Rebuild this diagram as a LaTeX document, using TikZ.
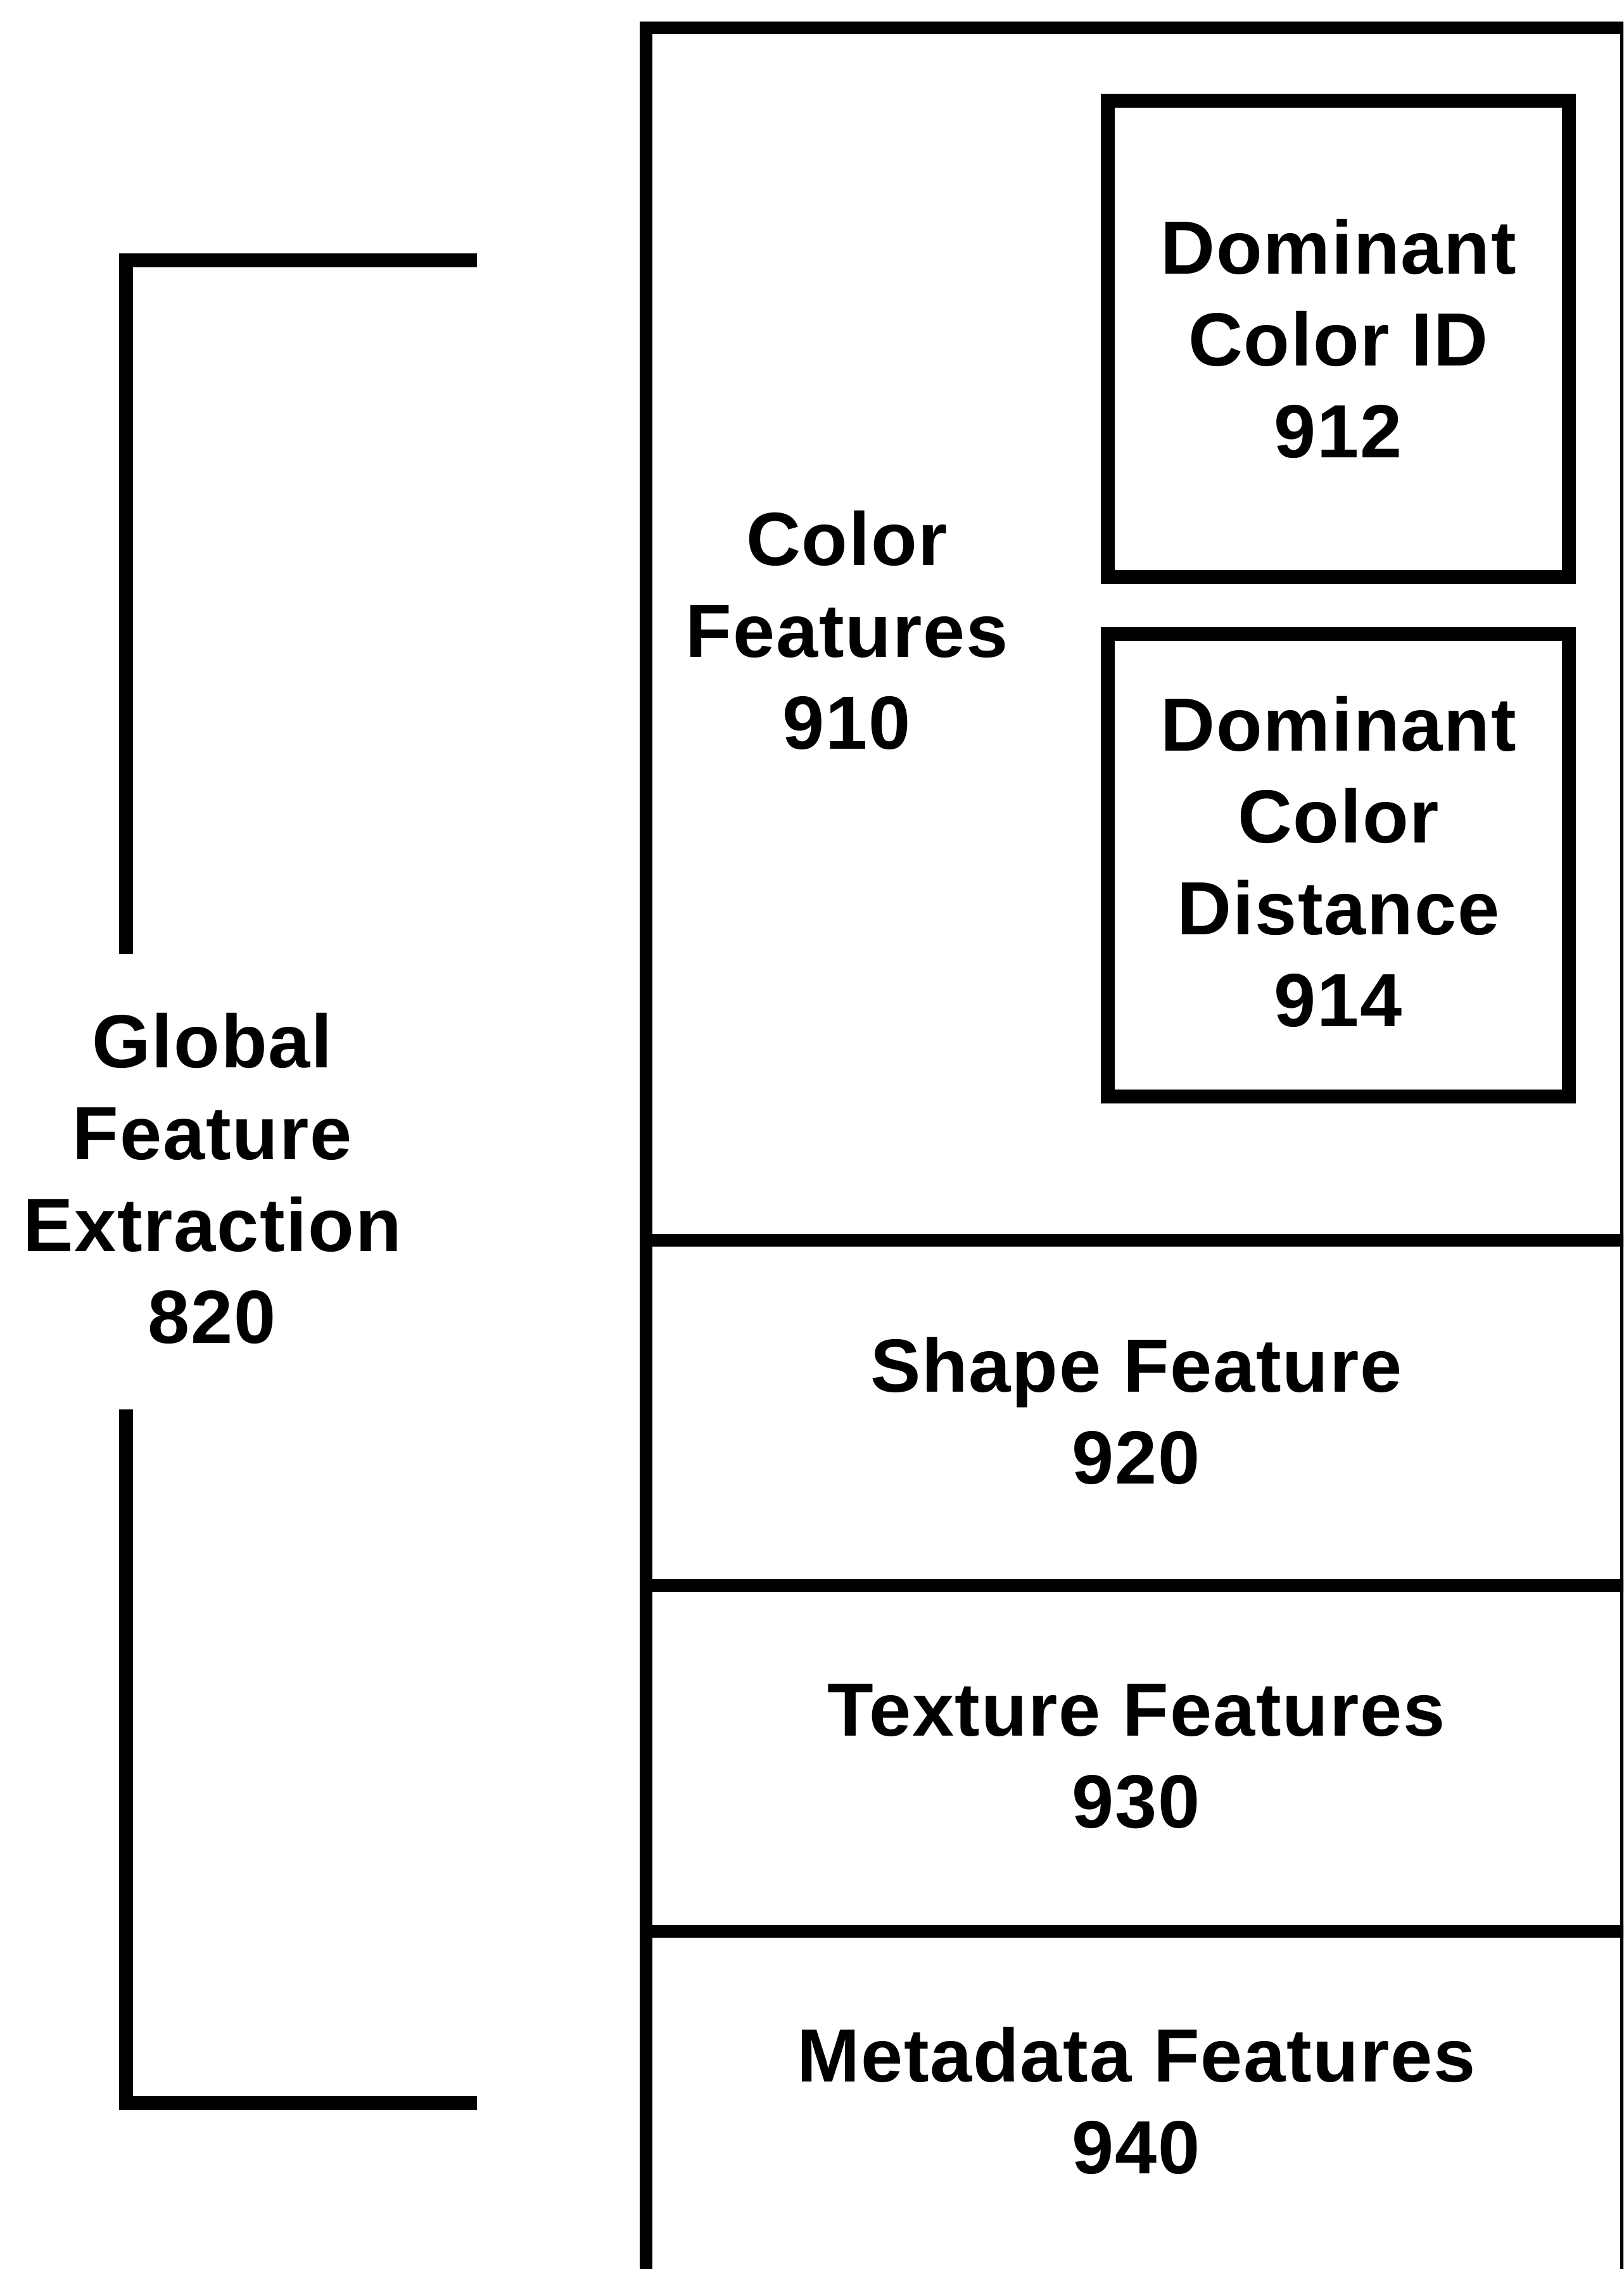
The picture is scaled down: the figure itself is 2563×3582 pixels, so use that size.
\documentclass[tikz,border=0pt]{standalone}
\usepackage{fontspec}
\setmainfont{Liberation Sans}[LetterSpace=1.5]
\begin{document}
\begin{tikzpicture}[x=0.1pt,y=-0.1pt,
  lbl/.style={align=center,inner sep=0pt,font=\bfseries\fontsize{11.9}{14.5}\selectfont},
  frame/.style={draw=black,line width=2pt},
  subbox/.style={draw=black,line width=2.2pt,rectangle,inner sep=0pt,
    minimum width=72.8pt,align=center,font=\bfseries\fontsize{11.9}{14.5}\selectfont},
  brk/.style={draw=black,line width=2.2pt,line join=miter}]
\clip (0,0) rectangle (2563,3582);
\fill[white] (0,0) rectangle (2563,3582);
% outer column
\draw[frame] (1020,3700) -- (1020,44) -- (2568,44) -- (2568,3700);
\coordinate (d1l) at (1020,1958); \coordinate (d1r) at (2568,1958);
\coordinate (d2l) at (1020,2503); \coordinate (d2r) at (2568,2503);
\coordinate (d3l) at (1020,3049); \coordinate (d3r) at (2568,3049);
\draw[frame] (d1l) -- (d1r);
\draw[frame] (d2l) -- (d2r);
\draw[frame] (d3l) -- (d3r);
% color sub-boxes
\node[subbox,minimum height=75.2pt] (b912) at (2113,535) {Dominant\\Color ID\\912};
\node[subbox,minimum height=73.1pt] (b914) at (2113,1366) {};
\node[lbl] (t914) at (2113,1360) {Dominant\\Color\\Distance\\914};
% section labels
\node[lbl] (t910) at (1337,995) {Color\\Features\\910};
\node[lbl] (t920) at (1794,2227) {Shape Feature\\920};
\node[lbl] (t930) at (1794,2773) {Texture Features\\930};
\node[lbl] (t940) at (1794,3316) {Metadata Features\\940};
% bracket
\node[lbl] (t820) at (335,1860) {Global\\Feature\\Extraction\\820};
\coordinate (bt) at (753,411);
\coordinate (btc) at (199,411);
\coordinate (btm) at (199,1506);
\coordinate (bbm) at (199,2225);
\coordinate (bbc) at (199,3320);
\coordinate (bb) at (753,3320);
\draw[brk] (bt) -- (btc) -- (btm);
\draw[brk] (bbm) -- (bbc) -- (bb);
\end{tikzpicture}
\end{document}
